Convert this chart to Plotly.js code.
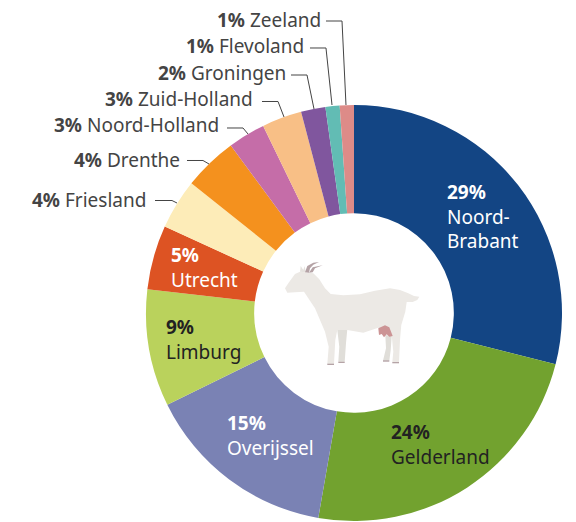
<!DOCTYPE html>
<html><head><meta charset="utf-8">
<script src="https://cdn.plot.ly/plotly-3.0.1.min.js"></script>
<style>html,body{margin:0;padding:0;background:#fff}</style></head>
<body><div id="chart" style="width:576px;height:522px"></div>
<script>
const W = 576, H = 522;
const provinces = ["Noord-Brabant","Gelderland","Overijssel","Limburg","Utrecht","Friesland","Drenthe","Noord-Holland","Zuid-Holland","Groningen","Flevoland","Zeeland"];
const shares = [29,23.8,15,9.1,5,3.9,4.2,2.9,3.1,1.9,1.1,1.1];
const shownPct = [29,24,15,9,5,4,4,3,3,2,1,1];
const colors = ["#134584","#72a22f","#7a82b4","#bad25c","#dd5323","#fdecb8","#f4911e","#c56da8","#f8bf86","#80569e","#62bcb4","#dd8b88"];
const nameLines = {"Noord-Brabant":"Noord-<br>Brabant"};
const labelPos = [[446,217,"#fff"],[390,444,"#222"],[226,435,"#fff"],[165,339,"#222"],[170,267,"#fff"]];
const outerPos = {5:[147,200],6:[181,160],7:[220,125],8:[254,99],9:[287,73],10:[305,46],11:[322,20]};
const leaders = ["M155 200.5H172L177 203","M187 160.5H203L209 164","M227 128H243L248 134","M262 101.5H278L284 117","M291 75H307L314 109","M310 48H326L332 105","M326 21H342L346 105"];

const toPaper = p => p.replace(/(-?[\d.]+) (-?[\d.]+)/g,(m,x,y)=>(+x/W).toFixed(5)+" "+(1-(+y)/H).toFixed(5));
const goatPt = (x,y)=>(260+x/3).toFixed(1)+" "+(240+y/3).toFixed(1);
const gp = pts => "M"+pts.map(a=>goatPt(a[0],a[1])).join("L")+"Z";

function expandLeader(s){
  const m = s.match(/M([\d.]+) ([\d.]+)H([\d.]+)L([\d.]+) ([\d.]+)/);
  return `M${m[1]} ${m[2]}L${m[3]} ${m[2]}L${m[4]} ${m[5]}`;
}
const shapes = leaders.map(s=>({type:"path",xref:"paper",yref:"paper",path:toPaper(expandLeader(s)),line:{color:"#444",width:1},layer:"above"}));
const goatBody = [[75,145],[85,130],[105,102],[120,95],[135,97],[160,100],[178,118],[195,145],[212,162],[250,166],[300,163],[345,152],[390,145],[420,150],[445,160],[462,168],[478,170],[472,180],[458,186],[440,186],[436,215],[424,255],[420,300],[417,367],[397,367],[400,335],[396,295],[392,283],[355,263],[310,278],[262,270],[232,270],[226,300],[222,372],[202,372],[206,320],[195,275],[165,205],[132,155],[105,157],[82,158]];
const goatFront = [[232,270],[262,268],[258,310],[254,365],[235,365],[238,320]];
const goatHind = [[376,285],[395,288],[392,330],[388,362],[369,362],[378,325]];
const udder = [[355,265],[375,256],[388,262],[398,288],[388,290],[380,283],[372,292],[365,282],[357,285]];
const horn1 = [[135,97],[142,78],[160,68],[177,66],[160,74],[150,85],[147,98]];
const horn2 = [[147,98],[158,82],[188,76],[165,85],[158,97]];
const ear = [[120,95],[122,78],[130,90],[134,78],[137,97]];
const hooves = [[[202,371],[222,371],[222,375],[202,375]],[[235,365],[254,365],[254,369],[235,369]],[[369,361],[388,361],[388,365],[369,365]],[[397,366],[417,366],[417,370],[397,370]]];
const goat = [[goatFront,"#e0ded9"],[goatHind,"#e0ded9"],[goatBody,"#ece9e5"],[ear,"#e6e3df"],[horn1,"#b5a3a6"],[horn2,"#b5a3a6"],[udder,"#cc9495"]].concat(hooves.map(h=>[h,"#b5a3a6"]));
goat.forEach(([pts,c])=>shapes.push({type:"path",xref:"paper",yref:"paper",path:toPaper(gp(pts)),fillcolor:c,line:{width:0},layer:"above"}));

const FONT = "'Noto Sans', sans-serif", FS = 19;
const annotations = [];
const note = (text,x,y,anchor,color)=>annotations.push({xref:"paper",yref:"paper",x:x/W,y:1-y/H,xanchor:anchor,yanchor:"middle",align:anchor,showarrow:false,borderpad:0,text,font:{family:FONT,size:FS,color}});
provinces.forEach((p,i)=>{
  const pct = `<b>${shownPct[i]}%</b>`;
  if(i<labelPos.length){
    const [x,y,c]=labelPos[i];
    note(pct+"<br>"+(nameLines[p]||p),x,y,"left",c);
  } else {
    const [x,y]=outerPos[i];
    note(pct+" "+p,x,y,"right","#444");
  }
});

Plotly.newPlot("chart",[{type:"pie",labels:provinces,values:shares,sort:false,direction:"clockwise",rotation:0,hole:0.48,
  marker:{colors:colors,line:{width:0}},textinfo:"none",hoverinfo:"label+percent",
  domain:{x:[146/W,562/W],y:[1-521/H,1-105/H]}}],
  {width:W,height:H,margin:{l:0,r:0,t:0,b:0},showlegend:false,paper_bgcolor:"#fff",shapes,annotations},
  {displayModeBar:false,staticPlot:true});
</script></body></html>
